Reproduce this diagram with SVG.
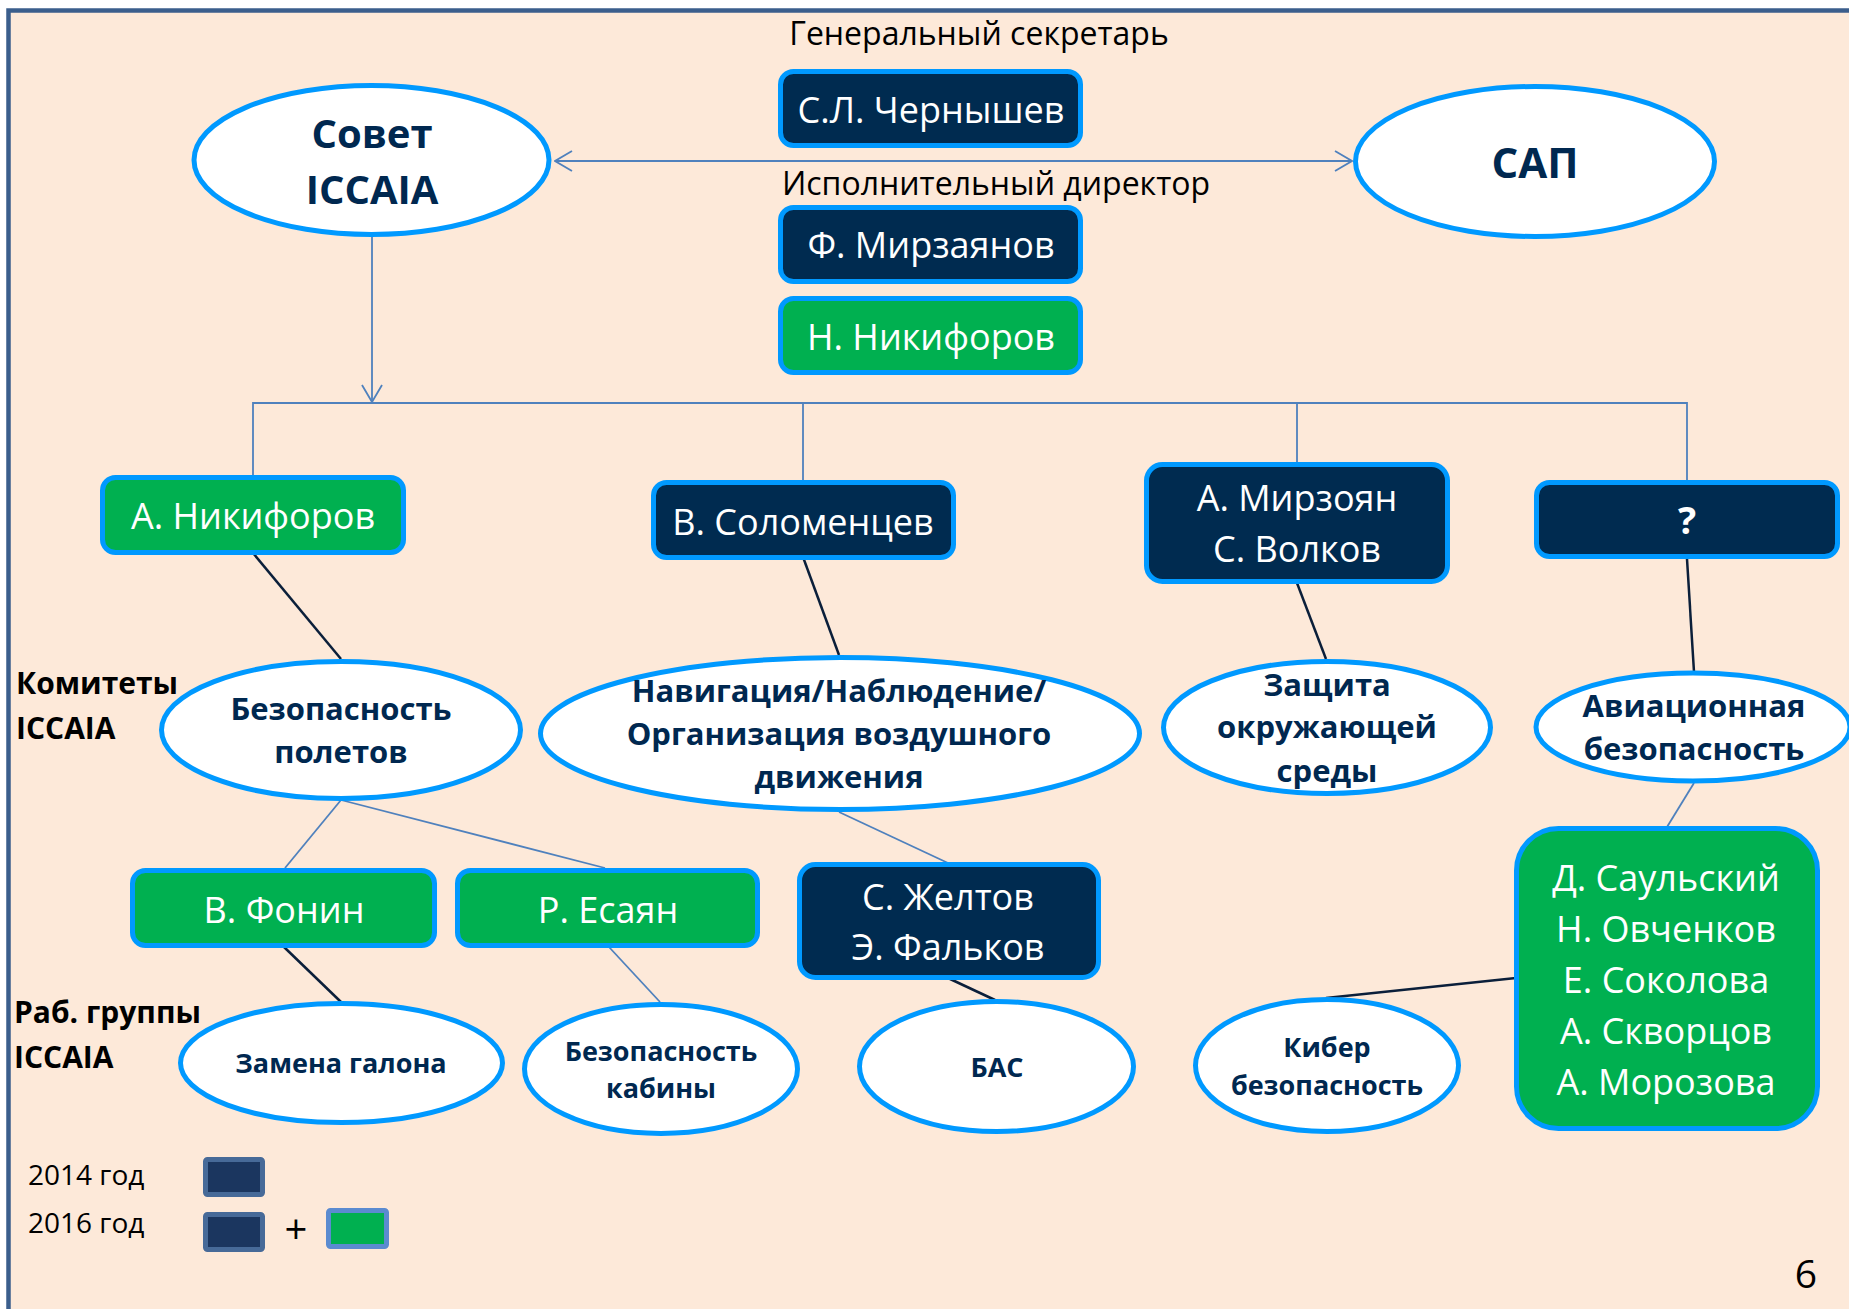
<svg xmlns="http://www.w3.org/2000/svg" width="1849" height="1309" viewBox="0 0 1849 1309">
<defs>
<style>
.box{stroke:#0099FF;stroke-width:5}
.navy{fill:#002B50}
.green{fill:#00B050}
.ell{fill:#FFFFFF;stroke:#0099FF;stroke-width:5}
.bt{font-family:"Open Sans","Noto Sans","DejaVu Sans",sans-serif;font-size:36px;fill:#FFFFFF;text-anchor:middle}
.et{font-family:"Open Sans","Noto Sans","DejaVu Sans",sans-serif;font-weight:bold;font-size:31px;fill:#002850;text-anchor:middle}
.wt{font-family:"Open Sans","Noto Sans","DejaVu Sans",sans-serif;font-weight:bold;font-size:27px;fill:#002850;text-anchor:middle}
.big{font-family:"Open Sans","Noto Sans","DejaVu Sans",sans-serif;font-weight:bold;font-size:40px;fill:#002850;text-anchor:middle}
.lab{font-family:"Open Sans","Noto Sans","DejaVu Sans",sans-serif;font-size:32px;fill:#000000}
.side{font-family:"Open Sans","Noto Sans","DejaVu Sans",sans-serif;font-weight:bold;font-size:30px;fill:#000000}
.leg{font-family:"Open Sans","Noto Sans","DejaVu Sans",sans-serif;font-size:28px;fill:#000000}
.blue{stroke:#4F81BD;stroke-width:1.8;fill:none}
.dark{stroke:#0B1F3A;stroke-width:2.5;fill:none}
</style>
<marker id="arr" viewBox="0 0 20 24" refX="19" refY="12" markerWidth="20" markerHeight="24" markerUnits="userSpaceOnUse" orient="auto-start-reverse">
<path d="M2,2 L19,12 L2,22" fill="none" stroke="#4F81BD" stroke-width="1.8"/>
</marker>
</defs>
<rect x="0" y="0" width="1849" height="1309" fill="#FFFFFF"/>
<rect x="8.5" y="10.5" width="1900" height="1400" fill="#FDE9D9" stroke="#3B5E8C" stroke-width="4.5"/>

<g id="connectors">
<line class="blue" x1="555" y1="161" x2="1352" y2="161" marker-start="url(#arr)" marker-end="url(#arr)"/>
<line class="blue" x1="372" y1="237" x2="372" y2="402" marker-end="url(#arr)"/>
<polyline class="blue" points="253,475 253,403 1687,403 1687,480"/>
<line class="blue" x1="803" y1="403" x2="803" y2="480"/>
<line class="blue" x1="1297" y1="403" x2="1297" y2="462"/>
<line class="dark" x1="253" y1="553" x2="341" y2="659"/>
<line class="dark" x1="803" y1="557" x2="839" y2="655"/>
<line class="dark" x1="1297" y1="583" x2="1326" y2="659"/>
<line class="dark" x1="1687" y1="559" x2="1694" y2="672"/>
<line class="dark" x1="284" y1="947" x2="341" y2="1002"/>
<line class="dark" x1="948" y1="978" x2="995" y2="1000"/>
<line class="dark" x1="1326" y1="998" x2="1516" y2="978"/>
<line class="blue" x1="341" y1="800" x2="285" y2="868"/>
<line class="blue" x1="341" y1="800" x2="605" y2="868"/>
<line class="blue" x1="839" y1="812" x2="948" y2="863"/>
<line class="blue" x1="1694" y1="783" x2="1667" y2="827"/>
<line class="blue" x1="609" y1="947" x2="660" y2="1002"/>
</g>

<g id="labels">
<text class="lab" x="979" y="45" text-anchor="middle">Генеральный секретарь</text>
<text class="lab" x="996" y="195" text-anchor="middle">Исполнительный директор</text>
<text class="side" x="16" y="694">Комитеты</text>
<text class="side" x="16" y="739">ICCAIA</text>
<text class="side" x="14" y="1023">Раб. группы</text>
<text class="side" x="14" y="1068">ICCAIA</text>
</g>

<g id="node-sovet">
<ellipse class="ell" cx="371.5" cy="160" rx="177.5" ry="74.5"/>
<text class="big" x="372" y="148">Совет</text>
<text class="big" x="372" y="204">ICCAIA</text>
</g>
<g id="node-sap">
<ellipse class="ell" cx="1535" cy="161.5" rx="179.5" ry="75"/>
<text class="big" x="1535" y="178" style="font-size:42px">САП</text>
</g>
<g id="node-chernyshev">
<rect class="box navy" x="780.5" y="71.5" width="300" height="74" rx="13"/>
<text class="bt" x="931" y="123">С.Л. Чернышев</text>
</g>
<g id="node-mirzayanov">
<rect class="box navy" x="780.5" y="207.5" width="300" height="74" rx="13"/>
<text class="bt" x="931" y="258">Ф. Мирзаянов</text>
</g>
<g id="node-n-nikiforov">
<rect class="box green" x="780.5" y="298.5" width="300" height="74" rx="13"/>
<text class="bt" x="931" y="350">Н. Никифоров</text>
</g>
<g id="node-a-nikiforov">
<rect class="box green" x="102.5" y="477.5" width="301" height="75" rx="13"/>
<text class="bt" x="253" y="529">А. Никифоров</text>
</g>
<g id="node-solomentsev">
<rect class="box navy" x="653.5" y="482.5" width="300" height="75" rx="13"/>
<text class="bt" x="803" y="535">В. Соломенцев</text>
</g>
<g id="node-mirzoyan">
<rect class="box navy" x="1146.5" y="464.5" width="301" height="117" rx="16"/>
<text class="bt" x="1297" y="511">А. Мирзоян</text>
<text class="bt" x="1297" y="562">С. Волков</text>
</g>
<g id="node-question">
<rect class="box navy" x="1536.5" y="482.5" width="301" height="74" rx="13"/>
<text class="bt" x="1687" y="534" style="font-weight:bold;font-size:38px">?</text>
</g>
<g id="node-bezop-poletov">
<ellipse class="ell" cx="341" cy="730" rx="179.5" ry="68.5"/>
<text class="et" x="341" y="720">Безопасность</text>
<text class="et" x="341" y="763">полетов</text>
</g>
<g id="node-navigatsiya">
<ellipse class="ell" cx="840" cy="733.5" rx="299.5" ry="76"/>
<text class="et" x="839" y="702">Навигация/Наблюдение/</text>
<text class="et" x="839" y="745">Организация воздушного</text>
<text class="et" x="839" y="788">движения</text>
</g>
<g id="node-zashchita">
<ellipse class="ell" cx="1327" cy="727.5" rx="163.5" ry="66"/>
<text class="et" x="1327" y="696">Защита</text>
<text class="et" x="1327" y="738">окружающей</text>
<text class="et" x="1327" y="782">среды</text>
</g>
<g id="node-aviats">
<ellipse class="ell" cx="1693" cy="727" rx="157" ry="54"/>
<text class="et" x="1694" y="717">Авиационная</text>
<text class="et" x="1694" y="760">безопасность</text>
</g>
<g id="node-fonin">
<rect class="box green" x="132.5" y="870.5" width="302" height="75" rx="13"/>
<text class="bt" x="284" y="923">В. Фонин</text>
</g>
<g id="node-esayan">
<rect class="box green" x="457.5" y="870.5" width="300" height="75" rx="13"/>
<text class="bt" x="608" y="923">Р. Есаян</text>
</g>
<g id="node-zheltov">
<rect class="box navy" x="799.5" y="864.5" width="299" height="113" rx="16"/>
<text class="bt" x="948" y="910">С. Желтов</text>
<text class="bt" x="948" y="960">Э. Фальков</text>
</g>
<g id="node-aviasec-team">
<rect class="box green" x="1516.5" y="828.5" width="301" height="300" rx="42"/>
<text class="bt" x="1666" y="891">Д. Саульский</text>
<text class="bt" x="1666" y="942">Н. Овченков</text>
<text class="bt" x="1666" y="993">Е. Соколова</text>
<text class="bt" x="1666" y="1044">А. Скворцов</text>
<text class="bt" x="1666" y="1095">А. Морозова</text>
</g>
<g id="node-zamena">
<ellipse class="ell" cx="341.5" cy="1063" rx="161" ry="59.5"/>
<text class="wt" x="341" y="1073">Замена галона</text>
</g>
<g id="node-kabiny">
<ellipse class="ell" cx="661" cy="1069" rx="136.5" ry="64.5"/>
<text class="wt" x="661" y="1061">Безопасность</text>
<text class="wt" x="661" y="1098">кабины</text>
</g>
<g id="node-bas">
<ellipse class="ell" cx="996.5" cy="1066.5" rx="137" ry="65"/>
<text class="wt" x="997" y="1077">БАС</text>
</g>
<g id="node-kiber">
<ellipse class="ell" cx="1327" cy="1065.5" rx="131.5" ry="66"/>
<text class="wt" x="1327" y="1057">Кибер</text>
<text class="wt" x="1327" y="1095">безопасность</text>
</g>

<g id="legend">
<text class="leg" x="28" y="1185">2014 год</text>
<text class="leg" x="28" y="1233">2016 год</text>
<rect x="205.5" y="1159.5" width="57" height="35" rx="2" fill="#1B365F" stroke="#476A98" stroke-width="5"/>
<rect x="205.5" y="1214.5" width="57" height="35" rx="2" fill="#1B365F" stroke="#476A98" stroke-width="5"/>
<text class="leg" x="296" y="1244" text-anchor="middle" style="font-size:40px">+</text>
<rect x="328.5" y="1210.5" width="58" height="36" rx="2" fill="#00B050" stroke="#5B8BD0" stroke-width="5"/>
</g>
<text id="page-number" x="1806" y="1288" text-anchor="middle" font-family="Open Sans, Noto Sans, sans-serif" font-size="39" fill="#000000">6</text>
</svg>
